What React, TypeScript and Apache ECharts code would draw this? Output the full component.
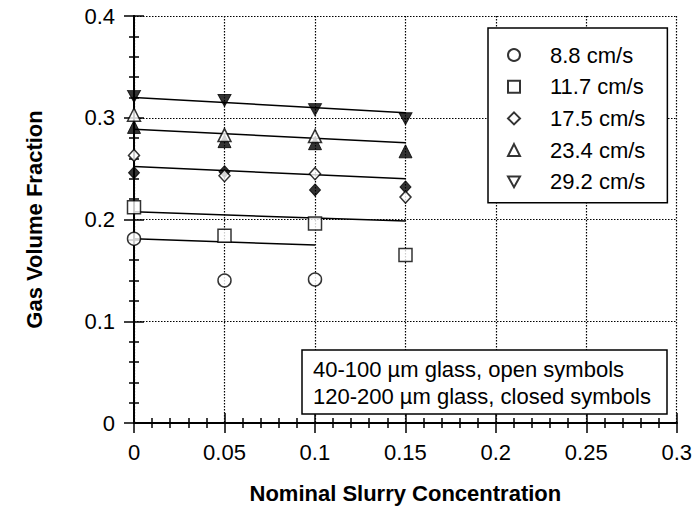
import React, { useEffect, useRef } from "react";
import * as echarts from "echarts";

// Tick values
const xTicks = [0, 0.05, 0.1, 0.15, 0.2, 0.25, 0.3];
const yTicks = [0, 0.1, 0.2, 0.3, 0.4];

// Legend labels
const speeds = ["8.8 cm/s", "11.7 cm/s", "17.5 cm/s", "23.4 cm/s", "29.2 cm/s"];

// Open symbols: 40-100 µm glass  [concentration, gas fraction]
const open88: number[][] = [[0, 0.181], [0.05, 0.140], [0.1, 0.141]];
const open117: number[][] = [[0, 0.212], [0.05, 0.184], [0.1, 0.196], [0.15, 0.165]];
const open175: number[][] = [[0, 0.263], [0.05, 0.243], [0.1, 0.245], [0.15, 0.222]];
const open234: number[][] = [[0, 0.303], [0.05, 0.283], [0.1, 0.282]];
const open292: number[][] = [];

// Closed symbols: 120-200 µm glass
const closed175: number[][] = [[0, 0.246], [0.05, 0.247], [0.1, 0.229], [0.15, 0.232]];
const closed234: number[][] = [[0, 0.291], [0.05, 0.277], [0.1, 0.275], [0.15, 0.267]];
const closed292: number[][] = [[0, 0.321], [0.05, 0.317], [0.1, 0.308], [0.15, 0.299]];

// Fit lines
const fit88: number[][] = [[0, 0.181], [0.1, 0.175]];
const fit117: number[][] = [[0, 0.2075], [0.15, 0.1985]];
const fit175: number[][] = [[0, 0.252], [0.15, 0.240]];
const fit234: number[][] = [[0, 0.2886], [0.15, 0.2755]];
const fit292: number[][] = [[0, 0.320], [0.15, 0.305]];

const annotationLines = ["40-100 µm glass, open symbols", "120-200 µm glass, closed symbols"];

const FONT = "'Liberation Sans', Arial, Helvetica, sans-serif";
const DOWN_TRI = "path://M0,0 L10,0 L5,9 Z";
const GRID = { left: 134, right: 18, top: 16, bottom: 87 };

export default function App() {
  const frameRef = useRef<HTMLDivElement>(null);
  const dataRef = useRef<HTMLDivElement>(null);
  useEffect(() => {
    if (!frameRef.current || !dataRef.current) return;

    // ---------- Frame instance: axes, ticks, labels, grid lines ----------
    const frame = echarts.init(frameRef.current, undefined, { renderer: "svg" });
    const mk = () => ({
      axisLine: { show: true, lineStyle: { color: "#000", width: 2 } },
      axisTick: { show: true, inside: true, length: 10, lineStyle: { color: "#000", width: 1.5 } },
      minorTick: { show: true, splitNumber: 5, length: 5, lineStyle: { color: "#000", width: 1.5 } },
    });
    const gridLine = { show: true, lineStyle: { color: "#000", width: 1.2, type: [1.5, 1.5] } };
    frame.setOption({
      animation: false,
      backgroundColor: "#fff",
      textStyle: { fontFamily: FONT },
      grid: GRID,
      xAxis: [
        {
          type: "value", min: xTicks[0], max: xTicks[xTicks.length - 1], interval: 0.05,
          ...mk(),
          axisLabel: { fontSize: 22, color: "#000", margin: 18, fontFamily: FONT },
          splitLine: gridLine,
          name: "Nominal Slurry Concentration",
          nameLocation: "middle",
          nameGap: 59,
          nameTextStyle: { fontSize: 22, fontWeight: "bold", color: "#000", fontFamily: FONT },
        },
        {
          type: "value", min: xTicks[0], max: xTicks[xTicks.length - 1], interval: 0.05,
          position: "top",
          ...mk(),
          axisLabel: { show: false },
          splitLine: { show: false },
        },
      ],
      yAxis: [
        {
          type: "value", min: yTicks[0], max: yTicks[yTicks.length - 1], interval: 0.1,
          ...mk(),
          axisLabel: { fontSize: 22, color: "#000", margin: 19, fontFamily: FONT },
          splitLine: gridLine,
          name: "Gas Volume Fraction",
          nameLocation: "middle",
          nameGap: 89,
          nameTextStyle: { fontSize: 22, fontWeight: "bold", color: "#000", fontFamily: FONT },
        },
        {
          type: "value", min: yTicks[0], max: yTicks[yTicks.length - 1], interval: 0.1,
          position: "right",
          ...mk(),
          axisLabel: { show: false },
          splitLine: { show: false },
        },
      ],
      series: [{ type: "scatter", data: open88, symbolSize: 0, silent: true, itemStyle: { opacity: 0 } }],
    });

    // ---------- Data instance: marks, fit lines, legend, annotation ----------
    const chart = echarts.init(dataRef.current, undefined, { renderer: "svg" });
    const openStyle = { color: "#fff", borderColor: "#000", borderWidth: 1.5 };
    const closedStyle = { color: "#000", borderColor: "#000", borderWidth: 1 };
    const scatter = (name: string, data: number[][], symbol: string, size: number | number[], style: any, z = 3) => ({
      type: "scatter", name, data, symbol, symbolSize: size, itemStyle: style, clip: false, z,
    });
    const fit = (data: number[][]) => ({
      type: "line", data, showSymbol: false, lineStyle: { color: "#000", width: 1.5 }, z: 2,
    });
    const hiddenAxis = {
      type: "value",
      axisLine: { show: false },
      axisTick: { show: false },
      axisLabel: { show: false },
      splitLine: { show: false },
    };
    chart.setOption({
      animation: false,
      backgroundColor: "transparent",
      textStyle: { fontFamily: FONT },
      grid: GRID,
      xAxis: { ...hiddenAxis, min: xTicks[0], max: xTicks[xTicks.length - 1], interval: 0.05 },
      yAxis: { ...hiddenAxis, min: yTicks[0], max: yTicks[yTicks.length - 1], interval: 0.1 },
      legend: {
        data: speeds,
        orient: "vertical",
        left: 488,
        top: 28,
        padding: [16, 22, 10, 19],
        itemWidth: 12,
        itemHeight: 12,
        itemGap: 9.7,
        backgroundColor: "#fff",
        borderColor: "#000",
        borderWidth: 1.5,
        borderRadius: 0,
        selectedMode: false,
        textStyle: { fontSize: 22, lineHeight: 22, color: "#000", fontFamily: FONT, padding: [0, 0, 0, 25] },
      },
      graphic: [
        {
          type: "group",
          z: 10,
          children: [
            {
              type: "rect",
              shape: { x: 302, y: 350, width: 365, height: 64 },
              style: { fill: "#fff", stroke: "#000", lineWidth: 1.5 },
            },
            {
              type: "text", x: 313, y: 369,
              style: { text: annotationLines[0], font: `22px ${FONT}`, fill: "#000", verticalAlign: "middle" },
            },
            {
              type: "text", x: 313, y: 396,
              style: { text: annotationLines[1], font: `22px ${FONT}`, fill: "#000", verticalAlign: "middle" },
            },
          ],
        },
      ],
      series: [
        fit(fit88),
        fit(fit117),
        fit(fit175),
        fit(fit234),
        fit(fit292),
        scatter(speeds[0], open88, "circle", 13, openStyle),
        scatter(speeds[1], open117, "rect", 13, openStyle),
        scatter("17.5 cm/s closed", closed175, "diamond", [11, 12], closedStyle),
        scatter(speeds[2], open175, "diamond", [11, 12], openStyle),
        scatter("23.4 cm/s closed", closed234, "triangle", [13, 13], closedStyle),
        scatter(speeds[3], open234, "triangle", [13, 13], openStyle, 4),
        scatter(speeds[4], open292, DOWN_TRI, [13, 12], openStyle),
        scatter("29.2 cm/s closed", closed292, DOWN_TRI, [13, 12], closedStyle, 5),
      ],
    });
    return () => {
      chart.dispose();
      frame.dispose();
    };
  }, []);
  const box: React.CSSProperties = { position: "fixed", left: 0, top: 0, width: 695, height: 510 };
  return (
    <div>
      <div ref={frameRef} style={box} />
      <div ref={dataRef} style={box} />
    </div>
  );
}
